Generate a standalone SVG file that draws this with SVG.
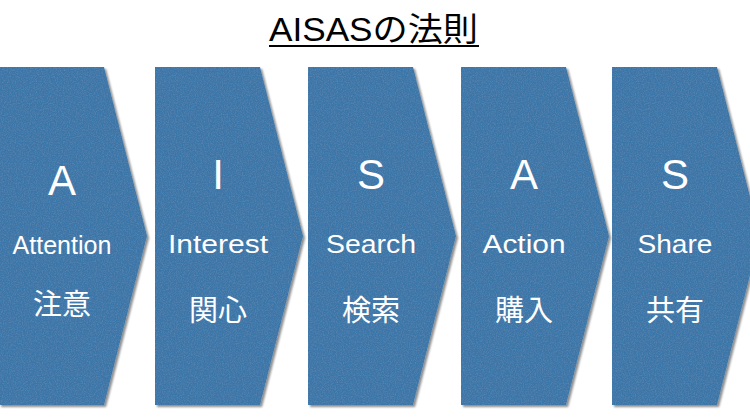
<svg xmlns="http://www.w3.org/2000/svg" width="750" height="420" viewBox="0 0 750 420">
  <style>
    .chev { fill: #3a76a8; }
    .big { font-family: "Liberation Sans", Arial, sans-serif; font-size: 42px; fill: #ffffff; text-anchor: middle; }
    .word { font-family: "Liberation Sans", Arial, sans-serif; font-size: 26px; fill: #ffffff; text-anchor: middle; }
    .jp { font-family: "Noto Sans CJK JP", "Noto Sans CJK SC", sans-serif; font-size: 29px; fill: #ffffff; text-anchor: middle; }
    .title { font-family: "Liberation Sans", "Noto Sans CJK JP", sans-serif; font-size: 33px; fill: #000000; }
  </style>
  <defs>
    <filter id="paper" x="-5%" y="-5%" width="115%" height="115%">
      <feGaussianBlur in="SourceAlpha" stdDeviation="1.2" result="b"/>
      <feOffset in="b" dx="1.5" dy="1.8" result="o"/>
      <feComponentTransfer in="o" result="sh"><feFuncA type="linear" slope="0.45"/></feComponentTransfer>
      <feTurbulence type="fractalNoise" baseFrequency="0.85" numOctaves="2" seed="4" result="n"/>
      <feColorMatrix in="n" type="matrix" values="0 0 0 0 1  0 0 0 0 1  0 0 0 0 1  0.12 0 0 0 -0.045" result="w"/>
      <feComposite in="w" in2="SourceGraphic" operator="in" result="tex"/>
      <feMerge><feMergeNode in="sh"/><feMergeNode in="SourceGraphic"/><feMergeNode in="tex"/></feMerge>
    </filter>
  </defs>
  <rect width="750" height="420" fill="#ffffff"/>

  <g id="title">
    <text class="title" x="269" y="41" textLength="209" lengthAdjust="spacingAndGlyphs">AISASの法則</text>
    <line x1="269" y1="46" x2="479" y2="46" stroke="#000000" stroke-width="2"/>
  </g>

  <g id="connectors"></g>

  <g id="node-attention">
    <polygon class="chev" filter="url(#paper)" points="-1,67 104,67 147,236 104,405 -1,405"/>
    <text class="big" x="62" y="195">A</text>
    <text class="word" x="62" y="254" font-size="21" textLength="99" lengthAdjust="spacingAndGlyphs">Attention</text>
    <text class="jp" x="62" y="315">注意</text>
  </g>

  <g id="node-interest">
    <polygon class="chev" filter="url(#paper)" points="155,67 260,67 303,236 260,405 155,405"/>
    <text class="big" x="218" y="189">I</text>
    <text class="word" x="218" y="253" textLength="100" lengthAdjust="spacingAndGlyphs">Interest</text>
    <text class="jp" x="218" y="321">関心</text>
  </g>

  <g id="node-search">
    <polygon class="chev" filter="url(#paper)" points="308,67 413,67 456,236 413,405 308,405"/>
    <text class="big" x="371" y="189">S</text>
    <text class="word" x="371" y="253" textLength="90" lengthAdjust="spacingAndGlyphs">Search</text>
    <text class="jp" x="371" y="321">検索</text>
  </g>

  <g id="node-action">
    <polygon class="chev" filter="url(#paper)" points="461,67 566,67 609,236 566,405 461,405"/>
    <text class="big" x="524" y="189">A</text>
    <text class="word" x="524" y="253" textLength="83" lengthAdjust="spacingAndGlyphs">Action</text>
    <text class="jp" x="524" y="321">購入</text>
  </g>

  <g id="node-share">
    <polygon class="chev" filter="url(#paper)" points="612,67 717,67 760,236 717,405 612,405"/>
    <text class="big" x="675" y="189">S</text>
    <text class="word" x="675" y="253" textLength="75" lengthAdjust="spacingAndGlyphs">Share</text>
    <text class="jp" x="675" y="321">共有</text>
  </g>
</svg>
